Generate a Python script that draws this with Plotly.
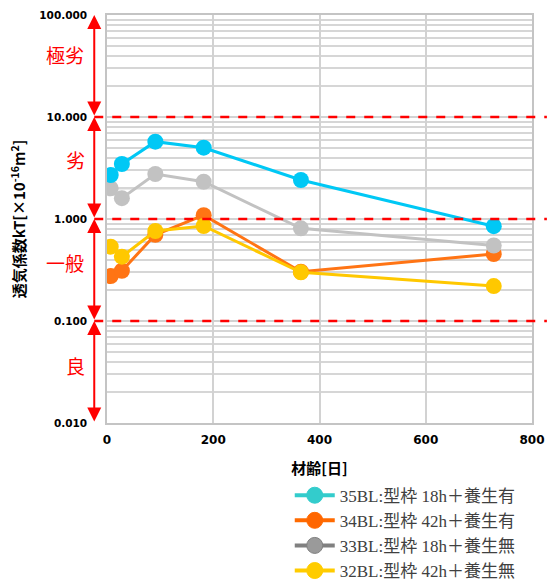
import plotly.graph_objects as go

# Air permeability kT vs. age, four specimens
days = [7, 28, 91, 182, 365, 728]
kt_35bl = [2.70, 3.46, 5.73, 5.00, 2.41, 0.85]
kt_34bl = [0.276, 0.311, 0.70, 1.09, 0.304, 0.454]
kt_33bl = [2.00, 1.60, 2.76, 2.32, 0.81, 0.55]
kt_32bl = [0.535, 0.427, 0.763, 0.854, 0.300, 0.220]

names = ["35BL:型枠 18h＋養生有", "34BL:型枠 42h＋養生有",
         "33BL:型枠 18h＋養生無", "32BL:型枠 42h＋養生無"]

x_ticks = [0, 200, 400, 600, 800]
y_ticks = [0.01, 0.1, 1, 10, 100]
y_ticktext = ["0.010", "0.100", "1.000", "10.000", "100.000"]

# grade bands: label, lower bound, upper bound (log10), label position (log10)
grades = [("極劣", 1, 2, 1.61), ("劣", 0, 1, 0.58),
          ("一般", -1, 0, -0.43), ("良", -2, -1, -1.44)]
thresholds = [10, 1, 0.1]

plot_colors = {"35": "#00C8F5", "34": "#FF7414", "33": "#C2C2C2", "32": "#FFC800"}
legend_line = {"35": "#33CCCC", "34": "#FF6A00", "33": "#808080", "32": "#FFCC00"}
legend_mark = {"35": "#33CCCC", "34": "#FF6600", "33": "#9A9A9A", "32": "#FFCC00"}

series = {"35": kt_35bl, "34": kt_34bl, "33": kt_33bl, "32": kt_32bl}

fig = go.Figure()

# data traces, drawn back to front
for key in ["34", "32", "33", "35"]:
    fig.add_trace(go.Scatter(
        x=days, y=series[key], mode="lines+markers",
        line=dict(color=plot_colors[key], width=3),
        marker=dict(color=plot_colors[key], size=16),
        showlegend=False, hoverinfo="skip"))

# legend entries
for key, name in zip(["35", "34", "33", "32"], names):
    fig.add_trace(go.Scatter(
        x=[None], y=[None], mode="lines+markers", name=name,
        line=dict(color=legend_line[key], width=4),
        marker=dict(color=legend_mark[key], size=16,
                    line=dict(color=legend_line[key], width=1))))

shapes = []
for t in thresholds:
    shapes.append(dict(type="line", xref="x domain", yref="y",
                       x0=-0.03, x1=1.035, y0=t, y1=t,
                       line=dict(color="#FF0000", width=2.5, dash="dash"),
                       layer="above"))
# emphasised grid line at kT = 2
shapes.append(dict(type="line", xref="x domain", yref="y", x0=0, x1=1,
                   y0=2, y1=2, line=dict(color="#B4B4B4", width=2),
                   layer="below"))

annotations = []
for label, lo, hi, ypos in grades:
    annotations.append(dict(
        x=-0.03, y=hi, ax=-0.03, ay=lo, xref="x domain", yref="y",
        axref="x domain", ayref="y", text="", showarrow=True,
        arrowhead=2, arrowside="end+start", arrowsize=1.4, arrowwidth=2,
        arrowcolor="#FF0000", standoff=0, startstandoff=0))
    annotations.append(dict(
        x=0, y=ypos, xref="x domain", yref="y", text=label, showarrow=False,
        xanchor="center", xshift=-42 if len(label) == 2 else -32,
        font=dict(family="Noto Sans CJK JP", size=19, color="#FF0000")))

minor_vals = [m * 10 ** e for e in range(-2, 2) for m in range(2, 10)]

fig.update_layout(
    width=550, height=581,
    margin=dict(l=107, r=18, t=15, b=158, autoexpand=False),
    paper_bgcolor="white", plot_bgcolor="white",
    shapes=shapes, annotations=annotations,
    showlegend=True,
    legend=dict(x=0.43, y=-0.134, xanchor="left", yanchor="top",
                font=dict(family="Liberation Serif, Noto Sans CJK JP",
                          size=17, color="#404040"),
                tracegroupgap=0, itemwidth=40,
                bgcolor="rgba(0,0,0,0)"),
    xaxis=dict(range=[0, 800], tickvals=x_ticks,
               showgrid=True, gridcolor="#D2D2D2", gridwidth=1.5,
               showline=True, linecolor="#C4C4C4", linewidth=1.5, mirror=True,
               zeroline=False, ticks="", automargin=False,
               ticklabelstandoff=5,
               tickfont=dict(family="DejaVu Sans", size=12, color="black",
                             weight="bold"),
               title=dict(text="材齢[日]", standoff=17,
                          font=dict(family="Noto Sans CJK JP", size=15,
                                    color="black", weight="bold"))),
    yaxis=dict(type="log", range=[-2, 2], tickvals=y_ticks,
               ticktext=y_ticktext, automargin=False,
               showgrid=True, gridcolor="#D2D2D2", gridwidth=1.5,
               minor=dict(tickvals=minor_vals, showgrid=True,
                          gridcolor="#D6D6D6", gridwidth=1.5, ticks=""),
               showline=True, linecolor="#C4C4C4", linewidth=1.5, mirror=True,
               zeroline=False, ticks="", ticklabelstandoff=16,
               tickfont=dict(family="DejaVu Sans", size=10.5, color="black",
                             weight="bold"),
               title=dict(text="透気係数kT[×10<sup>-16</sup>m<sup>2</sup>]",
                          standoff=10,
                          font=dict(family="Noto Sans CJK JP", size=15,
                                    color="black", weight="bold"))),
)

fig.write_html("out.html")
